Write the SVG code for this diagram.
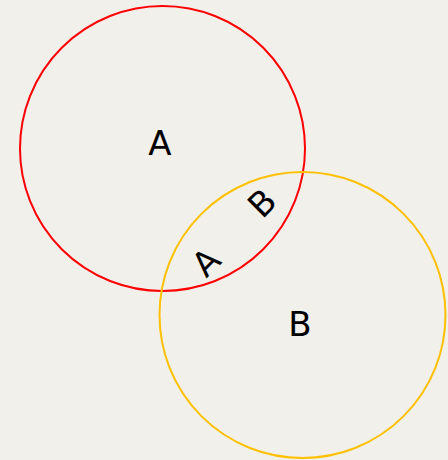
<svg xmlns="http://www.w3.org/2000/svg" width="448" height="460" viewBox="0 0 448 460">
<style>
.c{fill:none;stroke-width:2}
.t{font-family:"DejaVu Sans",sans-serif;font-size:34px;fill:#000;text-anchor:middle;dominant-baseline:central}
</style>
<rect width="448" height="460" fill="#f2f0eb"/>
<g id="setA"><circle class="c" cx="162.5" cy="148.5" r="142.5" stroke="#ff0000"/><text class="t" x="160" y="143">A</text></g>
<g id="setB"><circle class="c" cx="302.5" cy="315" r="143" stroke="#ffc000"/><text class="t" x="300" y="324">B</text></g>
<g id="intersection">
<text class="t" transform="translate(206,262) rotate(-45)">A</text>
<text class="t" transform="translate(262,203) rotate(-45)">B</text>
</g>
</svg>
